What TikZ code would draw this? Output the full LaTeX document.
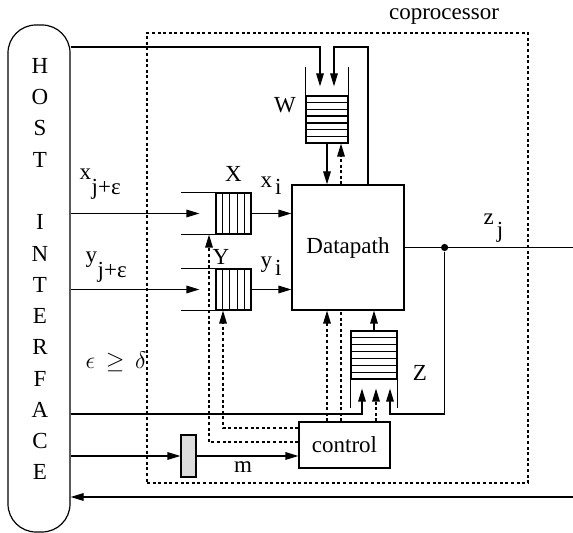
\documentclass[tikz,border=0pt]{standalone}
\usepackage{fontspec}
\setmainfont{Liberation Serif}
\usetikzlibrary{calc}
\usetikzlibrary{positioning}
\usetikzlibrary{arrows.meta}
\definecolor{regGray}{HTML}{DCDCDC}

\begin{document}
\begin{tikzpicture}[x=0.5pt, y=-0.5pt, line width=0.6pt,
		font=\fontsize{11.5}{14}\selectfont,
		blk/.style={draw, inner sep=0pt},
		lbl/.style={inner sep=0pt},
		host/.style={draw, rounded corners=14pt, minimum width=31pt, minimum height=253.5pt},
		cop/.style={draw, dash pattern=on 1.5pt off 1.3pt, minimum width=190.5pt, minimum height=225pt},
		fifo/.style={draw, inner sep=0pt},
		sig/.style={-{Triangle[length=6.5pt,width=3.8pt]}},
		ctl/.style={sig, dash pattern=on 1.5pt off 1.3pt},
		ctlw/.style={dash pattern=on 1.5pt off 1.3pt},
		joint/.style={circle, fill, inner sep=0pt, minimum size=3.6pt}
		]
		\useasboundingbox (0,0) rectangle (573,533);

		% host side
		\node[host] (host) at (39,278.5) {};
		\foreach \ch/\row in {H/0,O/1,S/2,T/3,I/5,N/6,T/7,E/8,R/9,F/10,A/11,C/12,E/13}
			\node[lbl] (h\row) at (40,66+31.25*\row) {\ch};

		% coprocessor frame
		\node[cop] (cop) at (337.5,258) {};
		\node[lbl] (coplab) at (444,17) {coprocessor};

		% blocks
		\node[blk, minimum width=56pt, minimum height=62.5pt] (dp) at (348,247.5) {Datapath};
		\node[blk, minimum width=45.5pt, minimum height=23pt] (ctrl) at (344.5,445) {control};
		\node[blk, fill=regGray, minimum width=7.5pt, minimum height=21pt] (reg) at (188.5,456) {};

		% queues X and Y
		\node[fifo, minimum width=17.5pt, minimum height=20.5pt] (xq) at (233.5,213.5) {};
		\node[fifo, minimum width=17.5pt, minimum height=20.5pt] (yq) at (233.5,289.5) {};
		\foreach \q in {xq,yq} {
			\foreach \i in {1,...,4}
				\draw ($(\q.north west)!\i/5!(\q.north east)$) -- ($(\q.south west)!\i/5!(\q.south east)$);
			\draw (\q.north west) -- ++(-34,0);
			\draw (\q.south west) -- ++(-34,0);
		}
		\node[lbl, above=5pt of xq] (xname) {X};
		\node[lbl] (yname) at (221,257) {Y};

		% queues W and Z
		\node[fifo, minimum width=21pt, minimum height=23.5pt] (wq) at (327,119.5) {};
		\node[fifo, minimum width=23pt, minimum height=24pt] (zq) at (374,355) {};
		\foreach \i in {1,...,6} {
			\draw ($(wq.north west)!\i/7!(wq.south west)$) -- ($(wq.north east)!\i/7!(wq.south east)$);
			\draw ($(zq.north west)!\i/7!(zq.south west)$) -- ($(zq.north east)!\i/7!(zq.south east)$);
		}
		\draw (wq.north west) -- ++(0,-28);
		\draw (wq.north east) -- ++(0,-28);
		\draw (zq.south west) -- ++(0,28);
		\draw (zq.south east) -- ++(0,28);
		\node[lbl] (wname) at (285,105) {W};
		\node[lbl] (zname) at (420,373) {Z};

		% end points
		\coordinate (toprail) at (0,47);
		\coordinate (zrail) at (0,414);
		\coordinate (zout) at (573,248);
		\coordinate (back) at (573,497);
		\coordinate (w-in1) at ([xshift=-3.5pt,yshift=4.5pt]wq.north);
		\coordinate (w-in2) at ([xshift=3.5pt,yshift=4.5pt]wq.north);
		\coordinate (dp-fb) at ([xshift=10pt]dp.north);
		\coordinate (cw) at ([xshift=-3.5pt]dp.south);
		\coordinate (cd) at ([xshift=-10.5pt]dp.south);
		\coordinate (z-in1) at ([xshift=-6pt,yshift=-4.5pt]zq.south);
		\coordinate (z-in2) at ([xshift=1pt,yshift=-4.5pt]zq.south);
		\coordinate (z-in3) at ([xshift=8pt,yshift=-4.5pt]zq.south);
		\coordinate (x-in) at ([xshift=-8pt]xq.west);
		\coordinate (y-in) at ([xshift=-8pt]yq.west);
		\coordinate (x-ctl) at ([xshift=-12.25pt]xq.south);
		\coordinate (y-ctl) at ([xshift=-5.25pt]yq.south);
		\node[joint] (tap) at ([xshift=20pt]dp.east) {};

		% data wires
		\draw[sig] (host.east |- toprail) -- (w-in1 |- toprail) -- (w-in1);
		\draw[sig] (dp-fb) -- (dp-fb |- toprail) -- (w-in2 |- toprail) -- (w-in2);
		\draw[sig] (wq.south) -- (wq.south |- dp.north);
		\draw[sig] (host.east |- x-in) -- (x-in);
		\draw[sig] (host.east |- y-in) -- (y-in);
		\draw[sig] (xq.east) -- (xq.east -| dp.west);
		\draw[sig] (yq.east) -- (yq.east -| dp.west);
		\draw (dp.east) -- (dp.east -| zout);
		\draw[sig] (tap) |- (z-in3 |- zrail) -- (z-in3);
		\draw[sig] (host.east |- zrail) -| (z-in1);
		\draw[sig] (zq.north) -- (zq.north |- dp.south);
		\draw[sig] (host.east |- reg) -- (reg.west);
		\draw[sig] (reg.east) -- (reg.east -| ctrl.west);
		\draw[sig] (back) -- (back -| host.east);

		% control wires
		\draw[ctl] (dp.north -| cw) -- (wq.south -| cw);
		\draw[ctlw] (ctrl.north -| cw) -- (dp.south -| cw);
		\draw[ctl] (ctrl.north -| cd) -- (dp.south -| cd);
		\draw[ctl] (ctrl.north -| z-in2) -- (z-in2);
		\draw[ctl] ([yshift=8.5pt]ctrl.west) -| (y-ctl);
		\draw[ctl] ([yshift=1.5pt]ctrl.west) -| (x-ctl);

		% labels
		\node[lbl, anchor=base west] (xjlab) at (79,180) {x\kern0.3pt\raisebox{-7.5pt}{j+ε}};
		\node[lbl, anchor=base west] (yjlab) at (85,263) {y\kern0.3pt\raisebox{-7.5pt}{j+ε}};
		\node[lbl, anchor=base west] (xilab) at (260,188) {x\kern1.5pt\raisebox{-3.5pt}{i}};
		\node[lbl, anchor=base west] (yilab) at (260,268) {y\kern1.5pt\raisebox{-4pt}{i}};
		\node[lbl, anchor=base west] (zjlab) at (483,225) {z\kern1.5pt\raisebox{-6.5pt}{j}};
		\node[lbl] (cond) at (116,362) {$\epsilon\,\geq\,\delta$};
		\node[lbl] (mlab) at (243,467) {m};
	\end{tikzpicture}
\end{document}
